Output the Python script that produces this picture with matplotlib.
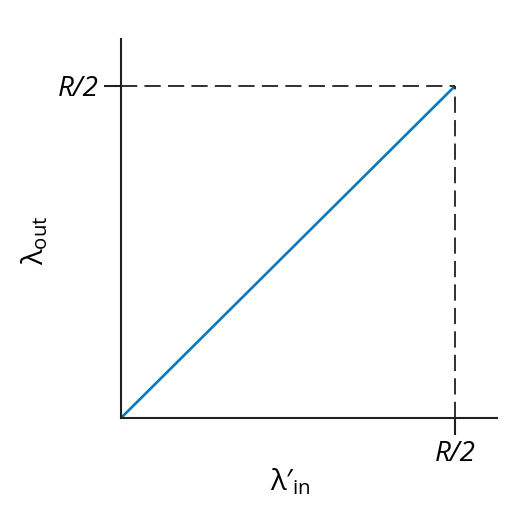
import matplotlib
matplotlib.use("Agg")
import matplotlib.pyplot as plt

plt.rcParams['font.family'] = ['Open Sans', 'DejaVu Sans']
plt.rcParams['mathtext.fontset'] = 'custom'
plt.rcParams['mathtext.rm'] = 'Open Sans'
plt.rcParams['mathtext.it'] = 'Open Sans:italic'

# throughput line: lambda_out vs lambda'_in, both up to R/2
x_vals = [0, 1]
y_vals = [0, 1]
tick_pos = [1]
tick_labels = ['R/2']

fig = plt.figure(figsize=(5.19, 5.08), dpi=100)
ax = fig.add_axes([121/519, (508-418)/508, (497-121)/519, (418-39)/508])

ax.plot(x_vals, y_vals, color='#0a78b8', lw=1.9, solid_capstyle='butt', clip_on=False)

# dashed guides to R/2
ax.plot([x_vals[1], x_vals[1]], [0, y_vals[1]], color='#231f20', lw=1.3, ls=(0, (9, 4)), clip_on=False)
ax.plot([0, x_vals[1]], [y_vals[1], y_vals[1]], color='#231f20', lw=1.3, ls=(0, (9, 4)), clip_on=False)

ax.set_xlim(0, 376/334)
ax.set_ylim(0, 379/332)

for s in ['top', 'right']:
    ax.spines[s].set_visible(False)
for s in ['left', 'bottom']:
    ax.spines[s].set_linewidth(1.5)
    ax.spines[s].set_color('#231f20')

ax.set_xticks(tick_pos)
ax.set_xticklabels(tick_labels, fontstyle='italic', fontsize=20)
ax.set_yticks(tick_pos)
ax.set_yticklabels(tick_labels, fontstyle='italic', fontsize=20)
ax.tick_params(direction='out', length=12, width=1.5, color='#231f20', pad=4)

fig.text(290/519, 1 - 482/508, r"λ′$_{\mathrm{in}}$", fontsize=21, ha='center', va='center')
fig.text(35/519, 1 - 240/508, r"λ$_{\mathrm{out}}$", fontsize=21, ha='center', va='center', rotation=90)

fig.savefig('out.png', dpi=100)
